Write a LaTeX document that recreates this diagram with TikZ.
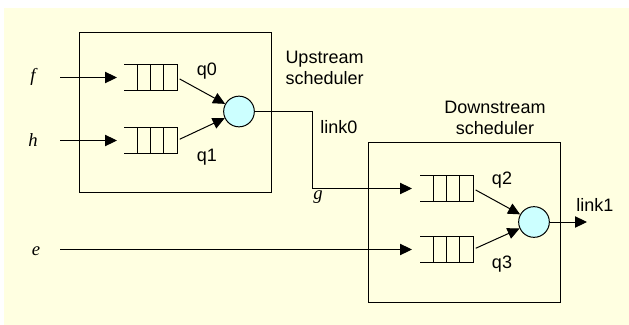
\documentclass[tikz,border=0pt]{standalone}
\usepackage{fontspec}
\setmainfont{Liberation Sans}
\newfontfamily\serifit{Liberation Serif}
\usetikzlibrary{arrows.meta,calc}
\definecolor{bgyellow}{HTML}{FFFFE1}
\definecolor{cyanfill}{HTML}{CCFFFF}
\newcommand\qdraw[1]{%
  \draw (#1.north west) -- (#1.north east) -- (#1.south east) -- (#1.south west);
  \foreach \k in {1,2,3}
    \draw ($(#1.north west)!\k/4!(#1.north east)$) -- ($(#1.south west)!\k/4!(#1.south east)$);}
\begin{document}
\begin{tikzpicture}[x=0.75pt,y=-0.75pt,
  line width=0.75pt,
  arr/.style={-{Triangle[length=9pt,width=8.5pt]}},
  lbl/.style={font=\fontsize{13.5}{15.75}\selectfont, inner sep=0pt},
  var/.style={font=\fontsize{14}{16}\serifit\itshape, inner sep=0pt},
  schedbox/.style={draw, minimum width=144pt, minimum height=120pt, inner sep=0pt},
  queue/.style={minimum width=39pt, minimum height=18.75pt, inner sep=0pt},
  server/.style={circle, draw, fill=cyanfill, minimum size=23pt, inner sep=0pt}]
\useasboundingbox (0,0) rectangle (629,325);
\fill[bgyellow] (4,8) rectangle (629,325);
% boxes
\node[schedbox] (up) at (175,112) {};
\node[schedbox] (down) at (464.5,222.5) {};
% queues
\node[queue] (qf) at (150.5,77.5) {};
\node[queue] (qh) at (150.5,140.5) {};
\node[queue] (qg) at (446.5,188.5) {};
\node[queue] (qe) at (446.5,249.5) {};
\qdraw{qf}\qdraw{qh}\qdraw{qg}\qdraw{qe}
% servers
\node[server] (s0) at (239,111.5) {};
\node[server] (s1) at (534,222) {};
% inputs
\coordinate (fin) at (60,77.5);
\coordinate (hin) at (60,140.5);
\coordinate (ein) at (60,249.5);
\coordinate (gbend) at (312,188.5);
\coordinate (l1) at (587,222);
\draw[arr, shorten >=5.25pt] (fin) -- (qf.west);
\draw[arr, shorten >=5.25pt] (hin) -- (qh.west);
\draw[arr, shorten >=6pt] (ein) -- (qe.west);
\draw[arr, shorten <=2.25pt] (qf.east) -- (s0);
\draw[arr, shorten <=2.25pt] (qh.east) -- (s0);
\draw[arr, shorten <=2.25pt] (qg.east) -- (s1);
\draw[arr, shorten <=2.25pt] (qe.east) -- (s1);
\draw[arr, shorten >=6pt] (s0.east) -| (gbend) -- (qg.west);
\draw[arr] (s1.east) -- (l1);
% labels
\node[var] (lf) at (33,77) {f};
\node[var] (lh) at (33,140) {h};
\node[var] (lg) at (318,197) {g};
\node[var] (le) at (36,251) {e};
\node[lbl] (lq0) at (207,71) {q0};
\node[lbl] (lq1) at (207,157) {q1};
\node[lbl] (lq2) at (502,180) {q2};
\node[lbl] (lq3) at (502,264) {q3};
\node[lbl] (ll0) at (339,127) {link0};
\node[lbl] (ll1) at (595,205) {link1};
\node[lbl, anchor=west, align=left] (lup) at (285,67.5) {Upstream\\scheduler};
\node[lbl, align=center] (ldown) at (495,117.5) {Downstream\\scheduler};
\end{tikzpicture}
\end{document}
